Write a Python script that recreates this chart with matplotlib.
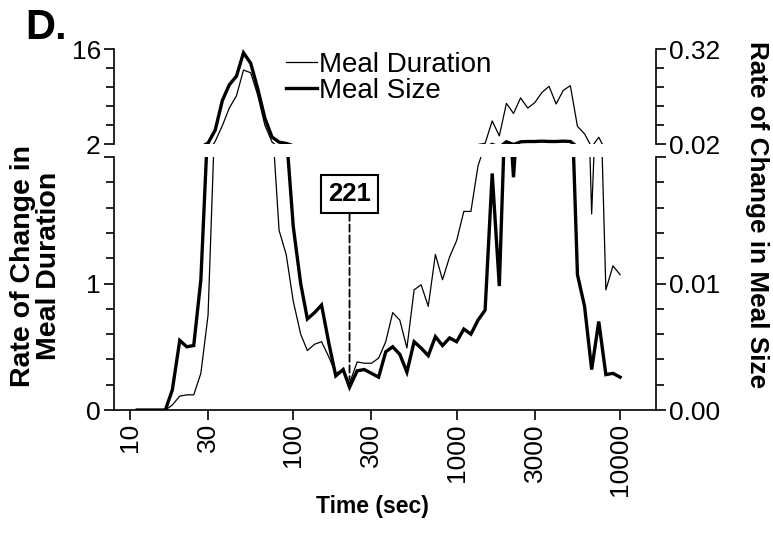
import matplotlib
matplotlib.use('Agg')
import matplotlib.pyplot as plt
from matplotlib.ticker import FixedLocator, MultipleLocator, NullLocator
from matplotlib.lines import Line2D

plt.rcParams['font.family'] = ['Liberation Sans', 'DejaVu Sans']

# time bins (sec)
time_sec = [11.1, 12.2, 13.5, 14.9, 16.5, 18.2, 20.2, 22.3, 24.6, 27.2,
            30.1, 33.3, 36.8, 40.6, 44.9, 49.6, 54.9, 60.6, 67.0, 74.1,
            81.9, 90.5, 100, 111, 122, 135, 149, 165, 182, 202,
            221, 246, 272, 301, 333, 368, 406, 449, 496, 549,
            606, 670, 741, 819, 905, 1000, 1106, 1222, 1351, 1493,
            1650, 1824, 2016, 2228, 2462, 2722, 3008, 3325, 3675, 4062,
            4489, 4962, 5485, 6062, 6700, 7406, 8185, 9047, 10000]

# rate of change in meal duration (left axis)
duration = [0, 0, 0, 0, 0, 0.04, 0.11, 0.12, 0.12, 0.29,
            0.75, 2.4, 4.7, 7.3, 9.1, 12.9, 12.5, 9.2, 4.8, 2.3,
            1.42, 1.23, 0.86, 0.6, 0.47, 0.52, 0.54, 0.42, 0.29, 0.32,
            0.21, 0.38, 0.37, 0.37, 0.41, 0.54, 0.77, 0.71, 0.49, 0.95,
            0.99, 0.82, 1.23, 1.03, 1.21, 1.34, 1.57, 1.57, 1.93, 2.1,
            5.4, 3.2, 8.0, 6.5, 8.8, 7.3, 8.1, 9.6, 10.5, 7.9,
            9.9, 10.6, 4.6, 3.5, 1.55, 3.0, 0.95, 1.14, 1.07]

# rate of change in meal size (right axis)
size = [0, 0, 0, 0, 0, 0.0016, 0.0055, 0.0050, 0.0051, 0.0103,
        0.023, 0.064, 0.157, 0.207, 0.234, 0.308, 0.275, 0.195, 0.102, 0.042,
        0.026, 0.022, 0.0145, 0.0100, 0.0072, 0.0077, 0.0083, 0.0053, 0.0027, 0.0032,
        0.0018, 0.0031, 0.0032, 0.0029, 0.0026, 0.0046, 0.0050, 0.0044, 0.0030, 0.0054,
        0.0049, 0.0043, 0.0058, 0.0051, 0.0057, 0.0054, 0.0064, 0.0060, 0.0071, 0.0079,
        0.0187, 0.0098, 0.027, 0.0184, 0.027, 0.028, 0.028, 0.029, 0.028, 0.028,
        0.029, 0.028, 0.0107, 0.0082, 0.0032, 0.0070, 0.0028, 0.0029, 0.0026]

annot_x = 221
x_ticks = [10, 30, 100, 300, 1000, 3000, 10000]

fig = plt.figure(figsize=(7.73, 5.35), dpi=100)
ax_lo = fig.add_axes([0.1475, 0.2336, 0.7012, 0.4729])
ax_hi = fig.add_axes([0.1475, 0.7308, 0.7012, 0.1776], sharex=ax_lo)
ax_lo_r = ax_lo.twinx()
ax_hi_r = ax_hi.twinx()

thin = dict(color='black', lw=0.9)
thick = dict(color='black', lw=2.4, solid_joinstyle='miter')
for ax in (ax_lo, ax_hi):
    ax.plot(time_sec, duration, **thin)
for ax in (ax_lo_r, ax_hi_r):
    ax.plot(time_sec, size, **thick)

ax_lo.set_xscale('log')
ax_lo.set_xlim(8, 16600)
ax_lo.set_ylim(0, 2)
ax_lo_r.set_ylim(0, 0.02)
ax_hi.set_ylim(2, 16)
ax_hi_r.set_ylim(0.02, 0.32)

ax_lo.set_xticks(x_ticks)
ax_lo.set_xticklabels([str(t) for t in x_ticks], rotation=90)
ax_lo.xaxis.set_minor_locator(NullLocator())

ax_lo.set_yticks([0, 1, 2])
ax_lo.set_yticklabels(['0', '1', ''])
ax_lo.yaxis.set_minor_locator(MultipleLocator(0.2))
ax_lo_r.set_yticks([0, 0.01, 0.02])
ax_lo_r.set_yticklabels(['0.00', '0.01', ''])
ax_lo_r.yaxis.set_minor_locator(MultipleLocator(0.002))
ax_hi.set_yticks([2, 16])
ax_hi.set_yticklabels(['2', '16'])
ax_hi.yaxis.set_minor_locator(FixedLocator([4.8, 7.6, 10.4, 13.2]))
ax_hi_r.set_yticks([0.02, 0.32])
ax_hi_r.set_yticklabels(['0.02', '0.32'])
ax_hi_r.yaxis.set_minor_locator(FixedLocator([0.08, 0.14, 0.20, 0.26]))

ax_hi.tick_params(axis='x', which='both', bottom=False, labelbottom=False)

# spines: broken axis look
ax_lo.spines[['top', 'right']].set_visible(False)
ax_lo_r.spines[['top', 'left', 'bottom']].set_visible(False)
ax_hi.spines[['top', 'bottom', 'right']].set_visible(False)
ax_hi_r.spines[['top', 'bottom', 'left']].set_visible(False)

for ax in (ax_lo, ax_hi, ax_lo_r, ax_hi_r):
    for s in ax.spines.values():
        s.set_linewidth(1.2)
    ax.tick_params(which='major', direction='out', length=7, width=1.2,
                   labelsize=19, pad=2.5)
    ax.tick_params(which='minor', direction='out', length=6, width=1.2)
    ax.patch.set_visible(False)

ax_lo.annotate(str(annot_x), xy=(annot_x, 0.24), xytext=(annot_x, 1.71),
               ha='center', va='center', fontsize=18.5, fontweight='bold',
               bbox=dict(boxstyle='square,pad=0.28', fc='white', ec='black', lw=1.5),
               arrowprops=dict(arrowstyle='-', linestyle=(0, (4, 2)), lw=1.3,
                               color='black', shrinkA=0, shrinkB=0))

handles = [Line2D([], [], **thin), Line2D([], [], **thick)]
fig.legend(handles, ['Meal Duration', 'Meal Size'], loc='upper left',
           bbox_to_anchor=(286 / 773, 1 - 52 / 535), frameon=False,
           fontsize=20, handlelength=1.1, handletextpad=0.1,
           labelspacing=0.0, borderpad=0, borderaxespad=0)

fig.text(0.033, 0.985, 'D.', fontsize=30, fontweight='bold', va='top')
fig.text(372 / 773, 1 - 507 / 535, 'Time (sec)', ha='center', va='center',
         fontsize=16.5, fontweight='bold')
fig.text(36 / 773, 1 - 266 / 535, 'Rate of Change in\nMeal Duration',
         rotation=90, ha='center', va='center', fontsize=20.5,
         fontweight='bold', linespacing=1.0)
fig.text(757 / 773, 1 - 215 / 535, 'Rate of Change in Meal Size',
         rotation=270, ha='center', va='center', fontsize=18.8,
         fontweight='bold')

fig.savefig('out.png', dpi=100)
